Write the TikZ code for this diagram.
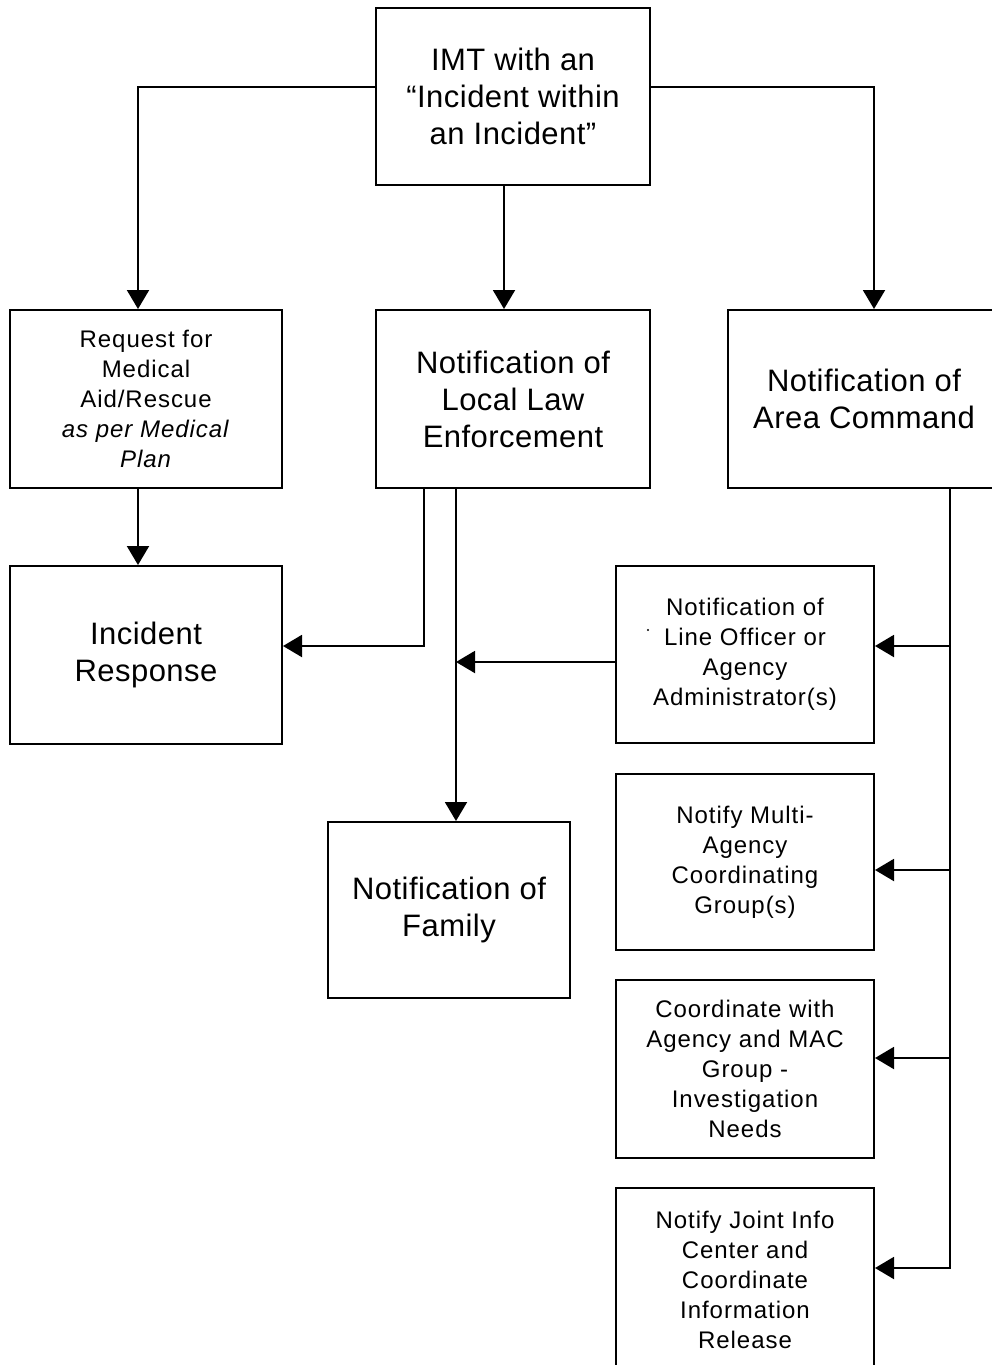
\documentclass[tikz,border=0pt]{standalone}
\usepackage{fontspec}
\setmainfont{Liberation Sans}
\usetikzlibrary{arrows.meta}
\begin{document}
\begin{tikzpicture}[x=1pt,y=-1pt,
  box/.style={draw=black,line width=2pt,inner sep=0pt,align=center,anchor=center},
  big/.style={font={\fontsize{31}{37}\selectfont\addfontfeatures{LetterSpace=1.5}}},
  sml/.style={font={\fontsize{24}{30}\selectfont\addfontfeatures{LetterSpace=4}}},
  conn/.style={line width=2pt,-{Triangle[length=19pt,width=22pt]}},
  plain/.style={line width=2pt}]
\clip (0,0) rectangle (992,1365);
\fill[white] (0,0) rectangle (992,1365);
% boxes
\node[box,big,minimum width=274pt,minimum height=177pt] (imt) at (513,96.5) {IMT with an\\“Incident within\\an Incident”};
\node[box,sml,minimum width=272pt,minimum height=178pt] (req) at (146,399) {Request for\\Medical\\Aid/Rescue\\\textit{as per Medical}\\\textit{Plan}};
\node[box,big,minimum width=274pt,minimum height=178pt] (law) at (513,399) {Notification of\\Local Law\\Enforcement};
\node[box,big,minimum width=272pt,minimum height=178pt] (ac) at (864,399) {Notification of\\Area Command};
\node[box,big,minimum width=272pt,minimum height=178pt] (ir) at (146,655) {Incident\\Response};
\node[box,sml,minimum width=258pt,minimum height=177pt] (lo) at (745,654.5) {Notification of\\Line Officer or\\Agency\\Administrator(s)};
\node[box,sml,minimum width=258pt,minimum height=176pt] (mac) at (745,862) {Notify Multi-\\Agency\\Coordinating\\Group(s)};
\node[box,sml,minimum width=258pt,minimum height=178pt] (coord) at (745,1069) {Coordinate with\\Agency and MAC\\Group -\\Investigation\\Needs};
\node[box,sml,minimum width=258pt,minimum height=184pt] (jic) at (745,1280) {Notify Joint Info\\Center and\\Coordinate\\Information\\Release};
\node[box,big,minimum width=242pt,minimum height=176pt] (fam) at (449,910) {Notification of\\Family};
\fill (648,630) circle (1.1pt);
% connectors
\draw[conn] ([yshift=9.5pt]imt.west) -| ([xshift=-8pt]req.north);
\draw[conn] ([xshift=-9pt]imt.south) -- ([xshift=-9pt]law.north);
\draw[conn] ([yshift=9.5pt]imt.east) -| ([xshift=10pt]ac.north);
\draw[conn] ([xshift=-8pt]req.south) -- ([xshift=-8pt]ir.north);
\draw[conn] ([xshift=-89pt]law.south) |- ([yshift=9pt]ir.east);
\coordinate (lawline) at ([xshift=-57pt]law.south);
\draw[conn] (lawline) -- ([xshift=7pt]fam.north);
\coordinate (lw) at ([yshift=-7.5pt]lo.west);
\draw[conn] (lw) -- (lw -| lawline);
\coordinate (acl) at ([xshift=86pt]ac.south);
\coordinate (loe) at ([yshift=8.5pt]lo.east);
\coordinate (mace) at ([yshift=-8pt]mac.east);
\coordinate (coe) at ([yshift=11pt]coord.east);
\coordinate (jice) at ([yshift=12pt]jic.east);
\draw[conn] (acl) |- (jice);
\draw[conn] (acl |- loe) -- (loe);
\draw[conn] (acl |- mace) -- (mace);
\draw[conn] (acl |- coe) -- (coe);
\end{tikzpicture}
\end{document}
